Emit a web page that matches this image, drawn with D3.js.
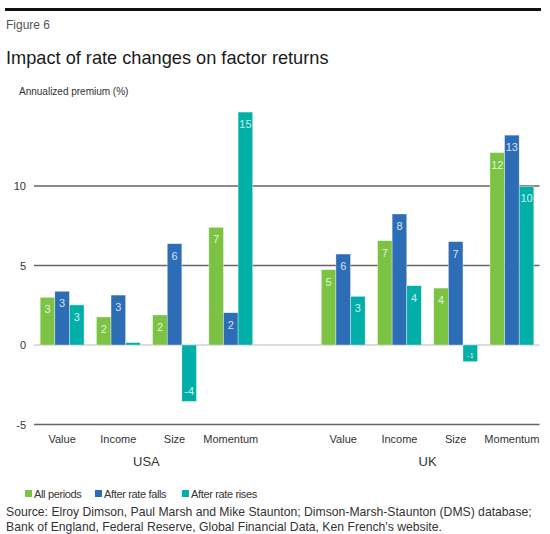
<!DOCTYPE html>
<html><head><meta charset="utf-8">
<script src="https://cdn.jsdelivr.net/npm/d3@7"></script>
<style>body{margin:0;background:#fff}svg{display:block}text{font-family:"Liberation Sans",Arial,sans-serif}</style>
</head><body><svg id="c" width="550" height="534"></svg>
<script>
const factors = ["Value","Income","Size","Momentum"];
const regions = ["USA","UK"];
const seriesNames = ["All periods","After rate falls","After rate rises"];
const allPeriods   = [3.0, 1.76, 1.89, 7.4,   4.74, 6.56, 3.58, 12.1];
const afterFalls   = [3.38, 3.14, 6.37, 2.03, 5.72, 8.24, 6.5, 13.2];
const afterRises   = [2.52, 0.15, -3.55, 14.65, 3.06, 3.73, -1.05, 9.98];
const yTicks = [-5, 0, 5, 10];
const colors = ["#7cc243","#2d6db5","#00afa7"];

const svg = d3.select("#c");
// top rule
svg.append("line").attr("x1",5).attr("x2",541).attr("y1",9.5).attr("y2",9.5).attr("stroke","#111").attr("stroke-width",3);
svg.append("text").attr("x",6).attr("y",29).attr("font-size",12).attr("fill","#555").text("Figure 6");
svg.append("text").attr("x",6).attr("y",64).attr("font-size",18.2).attr("fill","#1a1a1a").text("Impact of rate changes on factor returns");
svg.append("text").attr("x",19).attr("y",95).attr("font-size",10.1).attr("letter-spacing",-0.05).attr("fill","#333").text("Annualized premium (%)");

const slots = [];
regions.forEach((r,ri)=>{ factors.forEach(f=>slots.push(r+"|"+f)); if(ri===0) slots.push("gap"); });
const x = d3.scaleBand().domain(slots).range([34,540]).paddingInner(0.22).paddingOuter(0.11);
const xs = d3.scaleBand().domain(d3.range(3)).range([0,x.bandwidth()]);
const y = d3.scaleLinear().domain([-5,10]).range([424.5,186]);

// grid
const g = svg.append("g");
yTicks.forEach(t=>{
  g.append("line").attr("x1",34).attr("x2",539.5).attr("y1",y(t)).attr("y2",y(t))
   .attr("stroke", t===0 ? "#b8b8b8" : "#666").attr("stroke-width", t===0?1.2:1.4);
  g.append("text").attr("x", 26).attr("y", y(t)+4).attr("text-anchor","end").attr("font-size",11).attr("fill","#333").text(t);
});

const data = [];
regions.forEach((r,ri)=>factors.forEach((f,fi)=>{
  const i = ri*4+fi;
  [allPeriods[i],afterFalls[i],afterRises[i]].forEach((v,si)=>data.push({slot:r+"|"+f,si,v}));
}));
const bars = svg.append("g");
data.forEach(d=>{
  const bx = x(d.slot)+xs(d.si), bw = xs.bandwidth();
  const y0 = y(Math.max(0,d.v)), y1 = y(Math.min(0,d.v));
  bars.append("rect").attr("x",bx).attr("y",y0).attr("width",bw).attr("height",y1-y0)
    .attr("fill",colors[d.si]).attr("stroke","rgba(255,255,255,0.6)").attr("stroke-width",0.6);
  const lab = Math.round(d.v);
  if (Math.abs(d.v) >= 0.5) {
    const small = Math.abs(d.v) < 1.5;
    const ly = d.v >= 0 ? y0 + 16 : y1 - (small ? 4 : 6);
    bars.append("text").attr("x",bx+bw/2).attr("y",ly).attr("text-anchor","middle")
      .attr("font-size", small ? 8 : 11).attr("fill","rgba(255,255,255,0.82)").text(lab);
  }
});

// x labels
regions.forEach(r=>{
  factors.forEach(f=>{
    svg.append("text").attr("x",x(r+"|"+f)+x.bandwidth()/2).attr("y",443).attr("text-anchor","middle")
      .attr("font-size",11).attr("fill","#333").text(f);
  });
  const c = (x(r+"|"+factors[0]) + x(r+"|"+factors[3]) + x.bandwidth())/2;
  svg.append("text").attr("x",c).attr("y",465.5).attr("text-anchor","middle").attr("font-size",13).attr("fill","#333").text(r);
});

// legend
const legX = [25, 95, 182];
seriesNames.forEach((s,i)=>{
  svg.append("rect").attr("x",legX[i]).attr("y",490).attr("width",7).attr("height",7).attr("fill",colors[i]);
  svg.append("text").attr("x",legX[i]+9).attr("y",497.5).attr("font-size",11).attr("letter-spacing",-0.35).attr("fill","#333").text(s);
});

// source
svg.append("text").attr("x",6).attr("y",516).attr("font-size",12.2).attr("fill","#333")
  .text("Source: Elroy Dimson, Paul Marsh and Mike Staunton; Dimson-Marsh-Staunton (DMS) database;");
svg.append("text").attr("x",6).attr("y",530.5).attr("font-size",12.2).attr("fill","#333")
  .text("Bank of England, Federal Reserve, Global Financial Data, Ken French's website.");
</script></body></html>
